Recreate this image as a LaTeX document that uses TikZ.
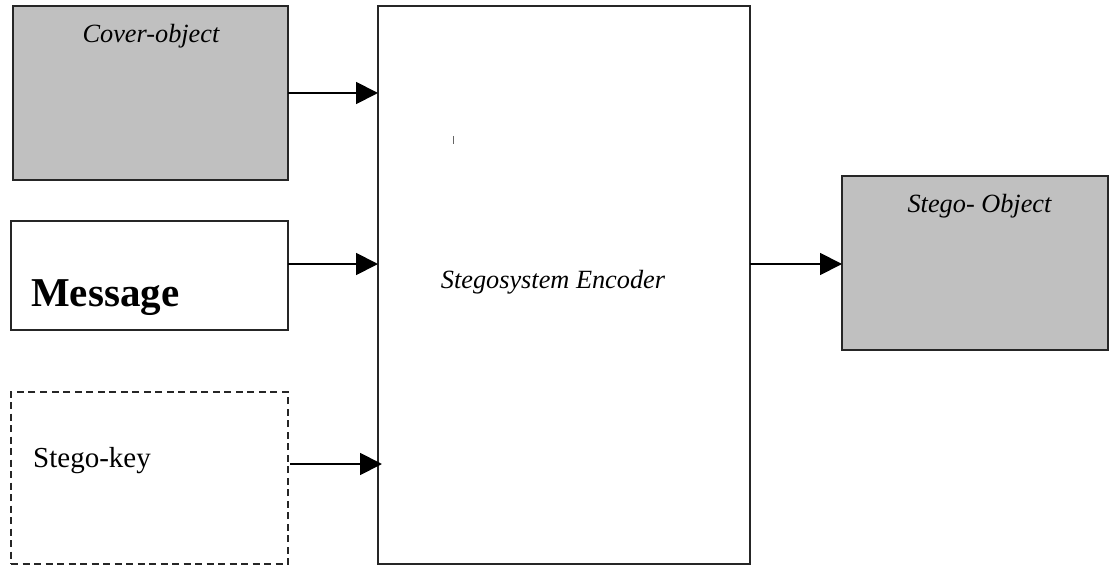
\documentclass[tikz,border=0pt]{standalone}
\usepackage{fontspec}
\setmainfont{Liberation Serif}
\usetikzlibrary{arrows.meta}
\definecolor{boxgray}{HTML}{C0C0C0}
\begin{document}
\begin{tikzpicture}[x=1pt,y=-1pt,
  blk/.style={draw=black!85, line width=1.9pt, rectangle, inner sep=0pt, outer sep=0pt},
  shaded/.style={blk, fill=boxgray},
  keybox/.style={blk, dashed, dash pattern=on 7pt off 4.5pt},
  label/.style={inner sep=0pt, anchor=base, font=\fontsize{26.3}{30}\selectfont\itshape},
  arr/.style={line width=1.9pt, -{Triangle[length=22pt,width=22pt]}}]
\useasboundingbox (0,0) rectangle (1109,567);

% input and output blocks
\node[shaded, minimum width=275pt, minimum height=174pt] (cover) at (150.5,93) {};
\node[blk, minimum width=277pt, minimum height=109pt] (msg) at (149.5,275.5) {};
\node[keybox, minimum width=277pt, minimum height=172pt] (key) at (149.5,478) {};
\node[blk, minimum width=372pt, minimum height=558pt] (enc) at (564,285) {};
\node[shaded, minimum width=266pt, minimum height=174pt] (stego) at (975,263) {};

% texts
\node[label] (tcover) at (151,43) {Cover-object};
\node[label] (tenc) at (553,288) {Stegosystem Encoder};
\node[label] (tstego) at (979.5,212) {Stego- Object};
\node[inner sep=0pt, anchor=base west, font=\fontsize{41}{45}\selectfont\bfseries] (tmsg) at (31,306) {Message};
\node[inner sep=0pt, anchor=base west, font=\fontsize{29}{33}\selectfont] (tkey) at (33,467) {Stego-key};

% stray mark inside the encoder
\draw[line width=1pt, black!60] (453,136) -- (453,144);

% connectors
\draw[arr] (cover.east) -- (cover.east -| enc.west);
\draw[arr] ([yshift=11.5pt]msg.east) -- ([yshift=11.5pt]msg.east -| enc.west);
\draw[arr] ([xshift=2pt,yshift=14pt]key.east) -- ([xshift=4pt,yshift=14pt]key.east -| enc.west);
\draw[arr] ([yshift=21pt]enc.east) -- ([yshift=21pt]enc.east -| stego.west);
\end{tikzpicture}
\end{document}
